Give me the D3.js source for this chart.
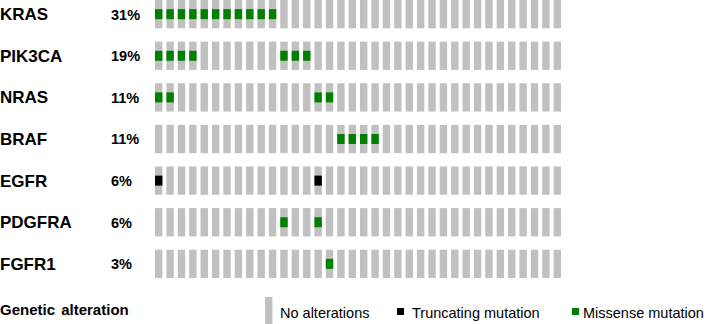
<!DOCTYPE html>
<html lang="en">
  <head>
    <meta charset="utf-8">
    <title>Oncoprint</title>
    <script src="https://d3js.org/d3.v7.min.js"></script>
    <style>
      body { margin: 0; background: #fff; }
      text { font-family: "Liberation Sans", Arial, sans-serif; }
    </style>
  </head>
  <body>
    <script>
      // data
      var nSamples = 36;
      var genes = ["KRAS", "PIK3CA", "NRAS", "BRAF", "EGFR", "PDGFRA", "FGFR1"];
      var percents = ["31%", "19%", "11%", "11%", "6%", "6%", "3%"];
      // sample indices (columns) with an alteration, one list per gene
      var missense = [
        [0, 1, 2, 3, 4, 5, 6, 7, 8, 9, 10],
        [0, 1, 2, 3, 11, 12, 13],
        [0, 1, 14, 15],
        [16, 17, 18, 19],
        [],
        [11, 14],
        [15]
      ];
      var truncating = [[], [], [], [], [0, 14], [], []];
      var legendItems = ["No alterations", "Truncating mutation", "Missense mutation"];

      var w = 709, h = 324;
      var grey = "#c0c0c0", green = "#008000", black = "#000000";

      var svg = d3.select("body").append("svg")
        .attr("width", w)
        .attr("height", h);

      var x = d3.scaleBand()
        .domain(d3.range(nSamples))
        .range([155, 561])
        .paddingInner(0.35);

      var y = d3.scaleBand()
        .domain(genes)
        .range([0, 278])
        .paddingInner(0.32);

      var rows = svg.selectAll("g.row")
        .data(genes)
        .enter()
        .append("g")
        .attr("class", "row")
        .attr("transform", function(d) { return "translate(0," + y(d) + ")"; });

      // grey background cells
      rows.selectAll("rect.bg")
        .data(d3.range(nSamples))
        .enter()
        .append("rect")
        .attr("class", "bg")
        .attr("x", function(d) { return x(d); })
        .attr("y", 0)
        .attr("width", x.bandwidth())
        .attr("height", y.bandwidth())
        .attr("fill", grey);

      var mh = 10;
      function mutations(list, cls, color) {
        rows.selectAll("rect." + cls)
          .data(function(d, i) { return list[i]; })
          .enter()
          .append("rect")
          .attr("class", cls)
          .attr("x", function(d) { return x(d); })
          .attr("y", (y.bandwidth() - mh) / 2)
          .attr("width", x.bandwidth())
          .attr("height", mh)
          .attr("fill", color);
      }
      mutations(missense, "mis", green);
      mutations(truncating, "trunc", black);

      // gene names and percentages
      rows.append("text")
        .text(function(d) { return d; })
        .attr("x", 0)
        .attr("y", y.bandwidth() / 2 + 6)
        .attr("font-size", 17)
        .attr("font-weight", "bold")
        .attr("fill", "#000");

      rows.append("text")
        .text(function(d, i) { return percents[i]; })
        .attr("x", 111)
        .attr("y", y.bandwidth() / 2 + 5.5)
        .attr("font-size", 14.5)
        .attr("font-weight", "bold")
        .attr("fill", "#000");

      // legend
      svg.append("text")
        .text("Genetic alteration")
        .attr("x", 0)
        .attr("y", 315)
        .attr("font-size", 15)
        .attr("font-weight", "bold")
        .attr("word-spacing", 2);

      var legend = svg.append("g");
      legend.append("rect")
        .attr("x", 265).attr("y", 297)
        .attr("width", x.bandwidth()).attr("height", 28)
        .attr("fill", grey);
      legend.append("rect")
        .attr("x", 397).attr("y", 308)
        .attr("width", 7).attr("height", 7)
        .attr("fill", black);
      legend.append("rect")
        .attr("x", 572).attr("y", 308)
        .attr("width", 7).attr("height", 7)
        .attr("fill", green);

      legend.selectAll("text")
        .data(legendItems)
        .enter()
        .append("text")
        .text(function(d) { return d; })
        .attr("x", function(d, i) { return [280, 412, 583][i]; })
        .attr("y", 318)
        .attr("font-size", 14.5)
        .attr("fill", "#000");
    </script>
  </body>
</html>
